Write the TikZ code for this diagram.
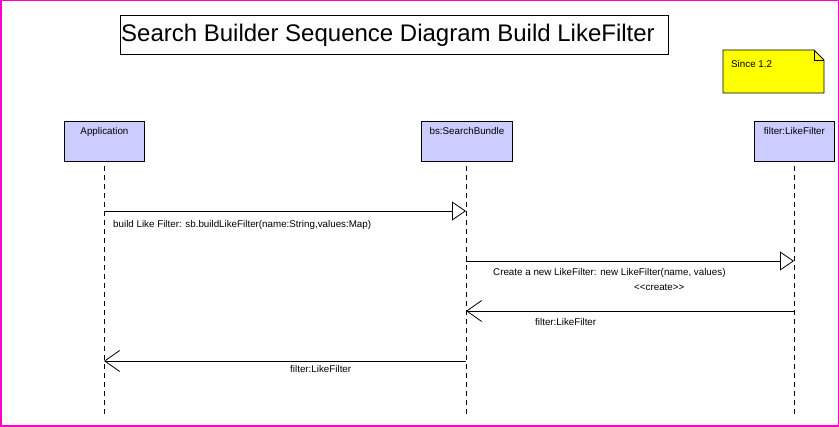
\documentclass[tikz,border=0pt]{standalone}
\usepackage{fontspec}
\setmainfont{Liberation Sans}
\usetikzlibrary{arrows.meta}
\definecolor{frame}{RGB}{255,0,204}
\definecolor{lifebox}{RGB}{204,204,255}
\definecolor{noteyellow}{RGB}{255,255,0}
\tikzset{
  smallfont/.style={font=\fontsize{9.8}{11}\selectfont},
  objbox/.style={draw=black, line width=0.9pt, fill=lifebox, minimum width=80pt, minimum height=40pt, inner sep=0pt, anchor=north west},
  objtext/.style={smallfont, anchor=north, inner sep=0pt, yshift=-6.5pt},
  lifeline/.style={draw=black, line width=0.8pt, dash pattern=on 5pt off 4pt},
  callmsg/.style={draw=black, line width=0.8pt, -{Triangle[open, length=14pt, width=19pt, line width=0.8pt]}},
  retmsg/.style={draw=black, line width=0.8pt, -{Straight Barb[length=15pt, width=21pt, line width=0.8pt]}},
  msglabel/.style={smallfont, inner sep=0pt},
}
\begin{document}
\begin{tikzpicture}[x=1pt, y=-1pt]
\useasboundingbox (0,0) rectangle (839,427);
\draw[frame, line width=1.5pt] (0.75,0.75) rectangle (838.25,426.25);

% title
\node[draw=black, line width=0.9pt, minimum width=548pt, minimum height=39pt, anchor=north west, inner sep=0pt] (title) at (120,15) {};
\node[font=\fontsize{24}{28}\selectfont, anchor=west, inner sep=0pt] (titletext) at (121,35.5) {Search Builder Sequence Diagram Build LikeFilter};

% note
\draw[black, line width=0.9pt, fill=noteyellow] (723,50) -- (814,50) -- (824,60) -- (824,93) -- (723,93) -- cycle;
\draw[black, line width=0.8pt] (814,50) -- (814,60) -- (824,60);
\node[smallfont, anchor=west, inner sep=0pt] (note) at (731,64) {Since 1.2};

% objects
\node[objbox] (app) at (64,121) {};
\node[objtext] (apptext) at (app.north) {Application};
\node[objbox, minimum width=91pt] (bs) at (421,121) {};
\node[objtext] (bstext) at (bs.north) {bs:SearchBundle};
\node[objbox] (filt) at (754,121) {};
\node[objtext] (filttext) at (filt.north) {filter:LikeFilter};

% lifelines
\coordinate (appEnd) at (104,417);
\coordinate (bsEnd) at (466,417);
\coordinate (filtEnd) at (794,417);
\draw[lifeline] (104,166) -- (appEnd);
\draw[lifeline] (466,166) -- (bsEnd);
\draw[lifeline] (794,166) -- (filtEnd);

% message rows
\coordinate (m1) at (0,211);
\coordinate (m2) at (0,261);
\coordinate (m3) at (0,311);
\coordinate (m4) at (0,361);

\draw[callmsg] (appEnd |- m1) -- (bsEnd |- m1);
\node[msglabel, anchor=west] (l1) at (113,225) {build Like Filter: sb.buildLikeFilter(name:String,values:Map)};

\draw[callmsg] (bsEnd |- m2) -- (filtEnd |- m2);
\node[msglabel, anchor=west] (l2) at (493,273) {Create a new LikeFilter: new LikeFilter(name, values)};
\node[msglabel, anchor=west] (l2b) at (634,287) {<{}<create>{}>};

\draw[retmsg] (filtEnd |- m3) -- (bsEnd |- m3);
\node[msglabel, anchor=west] (l3) at (535,322) {filter:LikeFilter};

\draw[retmsg] (bsEnd |- m4) -- (appEnd |- m4);
\node[msglabel, anchor=west] (l4) at (290,369) {filter:LikeFilter};
\end{tikzpicture}
\end{document}
